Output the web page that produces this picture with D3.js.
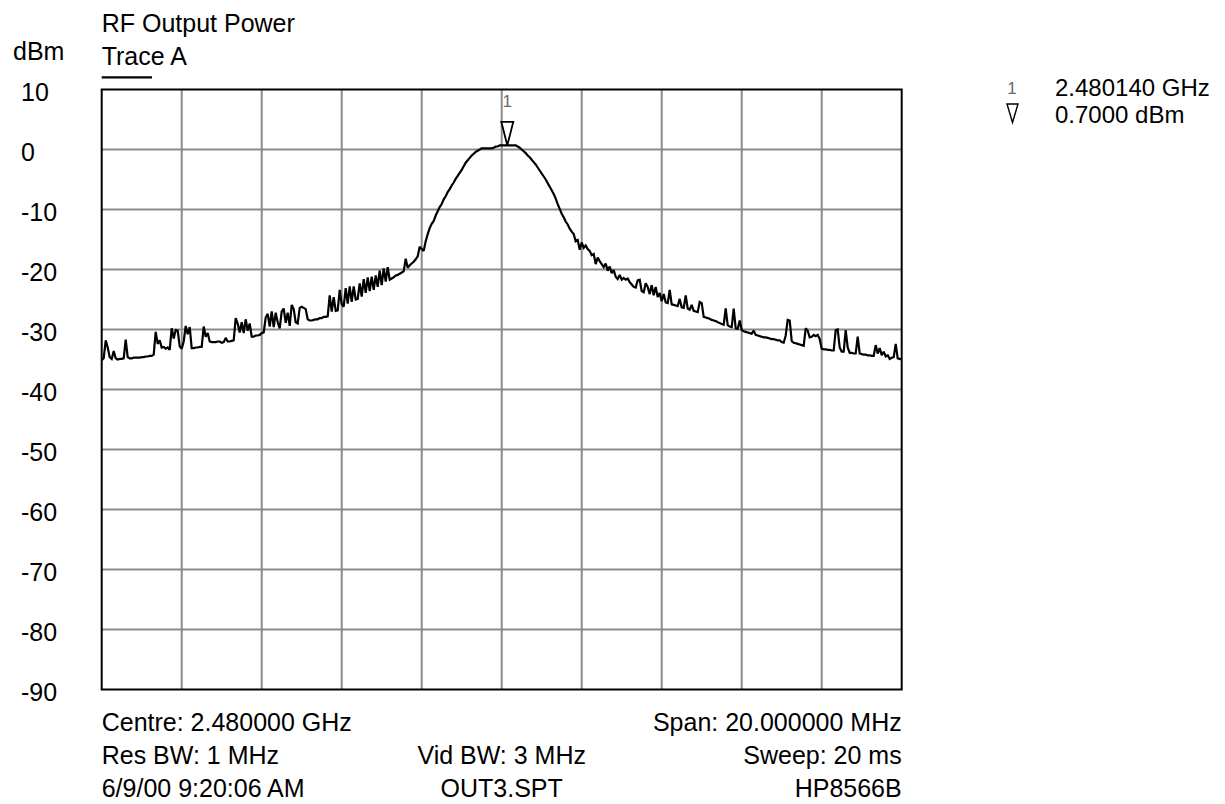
<!DOCTYPE html>
<html>
<head>
<meta charset="utf-8">
<title>RF Output Power</title>
<script src="https://cdn.jsdelivr.net/npm/d3@7/dist/d3.min.js"></script>
<style>
  html, body { margin: 0; padding: 0; background: #ffffff; }
  svg { display: block; }
  text { font-family: "Liberation Sans", Arial, Helvetica, sans-serif; fill: #000; }
</style>
</head>
<body>
<svg id="chart" width="1225" height="804"></svg>
<script>
// Sweep setup (GHz)
const centreGHz = 2.480000;
const spanGHz = 0.020;

// Vertical scale, dBm
const levelTicks = [10, 0, -10, -20, -30, -40, -50, -60, -70, -80, -90];
// Horizontal divisions across the span
const freqDivisions = [0, 1, 2, 3, 4, 5, 6, 7, 8, 9, 10];

// Trace A, dBm, 401 sweep points from start to stop frequency
const traceDbm = [
  -35.1, -34.8, -31.8, -33.0, -34.6, -34.9, -33.6, -34.8, -35.0, -34.9, -34.9, -34.8, -31.7, -34.6, -34.8, -34.8, -34.7, -34.7, -34.7, -34.7,
  -34.6, -34.6, -34.5, -34.5, -34.4, -34.4, -34.2, -30.4, -32.4, -31.8, -33.0, -32.9, -33.2, -33.0, -33.4, -29.8, -31.5, -30.1, -30.2, -32.8,
  -33.2, -32.0, -29.4, -30.8, -29.6, -33.1, -33.1, -33.0, -33.0, -32.9, -32.9, -29.5, -31.2, -30.6, -32.0, -32.1, -32.1, -32.1, -32.0, -32.0,
  -32.2, -32.1, -31.4, -32.0, -32.0, -31.9, -31.8, -28.1, -29.0, -30.5, -28.8, -30.6, -28.3, -30.2, -29.0, -31.2, -31.2, -31.0, -31.0, -30.9,
  -30.6, -30.5, -28.0, -27.4, -29.5, -27.0, -29.6, -27.2, -28.8, -29.8, -27.0, -26.5, -28.9, -27.2, -29.4, -25.9, -26.6, -28.8, -29.0, -26.4,
  -26.2, -26.4, -26.6, -28.3, -28.5, -28.5, -28.4, -28.3, -28.3, -28.1, -28.1, -27.9, -27.9, -27.8, -24.3, -27.0, -24.6, -26.9, -26.8, -23.4,
  -25.8, -26.2, -23.1, -25.7, -22.8, -25.4, -22.8, -25.0, -24.9, -22.3, -24.5, -21.6, -23.9, -21.3, -23.6, -21.2, -23.4, -21.0, -22.9, -20.2,
  -22.6, -19.8, -22.0, -19.6, -21.7, -21.5, -21.3, -21.0, -20.9, -20.7, -20.5, -20.3, -18.2, -19.7, -19.3, -19.0, -18.7, -18.3, -17.8, -16.2,
  -16.6, -16.9, -15.3, -14.1, -13.1, -12.4, -11.9, -11.0, -10.3, -9.6, -9.1, -8.3, -7.8, -7.1, -6.6, -6.0, -5.5, -4.9, -4.4, -3.9,
  -3.4, -2.8, -2.2, -1.8, -1.4, -1.0, -0.7, -0.4, -0.2, 0.0, 0.2, 0.2, 0.2, 0.2, 0.2, 0.2, 0.3, 0.5, 0.5, 0.7,
  0.7, 0.7, 0.7, 0.7, 0.7, 0.7, 0.7, 0.7, 0.5, 0.3, 0.0, -0.3, -0.6, -1.0, -1.3, -1.7, -2.1, -2.5, -3.0, -3.5,
  -4.0, -4.5, -5.0, -5.6, -6.2, -6.8, -7.4, -8.2, -9.1, -9.9, -10.7, -11.3, -12.0, -12.5, -13.2, -13.7, -14.1, -15.3, -15.1, -16.7,
  -15.5, -16.4, -16.0, -16.6, -16.9, -17.6, -17.4, -19.1, -18.0, -18.6, -19.1, -19.6, -19.0, -20.2, -19.5, -20.6, -20.1, -21.2, -21.6, -20.9,
  -21.7, -21.4, -21.7, -21.5, -22.1, -22.5, -22.9, -23.0, -21.8, -21.7, -23.6, -23.8, -22.3, -22.9, -24.1, -22.6, -24.3, -22.9, -24.6, -23.9,
  -25.3, -24.1, -25.5, -25.6, -23.4, -25.8, -25.9, -26.0, -26.1, -24.9, -26.3, -26.4, -24.3, -26.5, -26.7, -25.9, -26.9, -27.0, -27.1, -25.4,
  -25.6, -27.9, -28.0, -28.1, -28.2, -28.4, -28.5, -28.6, -28.8, -28.9, -29.1, -29.2, -26.5, -29.3, -29.5, -29.6, -26.5, -29.8, -29.9, -28.5,
  -30.1, -30.3, -30.4, -30.5, -30.6, -30.7, -30.2, -30.9, -31.0, -31.1, -31.2, -31.3, -31.3, -31.4, -31.5, -31.6, -31.6, -31.7, -31.8, -31.8,
  -32.1, -32.2, -31.0, -28.4, -28.5, -31.9, -32.2, -32.3, -32.4, -32.5, -32.6, -32.7, -29.8, -30.2, -31.3, -31.2, -30.9, -31.1, -30.9, -31.6,
  -33.2, -33.3, -33.3, -33.4, -33.4, -33.5, -33.5, -30.1, -30.0, -33.0, -33.7, -33.7, -30.1, -33.0, -33.9, -33.9, -34.0, -34.0, -31.2, -34.0,
  -34.1, -34.2, -34.2, -34.3, -34.3, -34.4, -34.4, -32.6, -34.0, -33.1, -34.3, -33.7, -34.5, -34.3, -34.9, -34.7, -34.6, -32.4, -34.8, -34.9,
  -35.0
];

// Marker 1
const markerLabel = "1";
const markerFreqGHz = 2.480140;
const markerLevelDbm = 0.7;

// Header and footer annotations
const titleText = "RF Output Power";
const traceName = "Trace A";
const unitText = "dBm";
const footerLeft = ["Centre: 2.480000 GHz", "Res BW: 1 MHz", "6/9/00 9:20:06 AM"];
const footerMiddle = ["", "Vid BW: 3 MHz", "OUT3.SPT"];
const footerRight = ["Span: 20.000000 MHz", "Sweep: 20 ms", "HP8566B"];

const svg = d3.select("#chart");
const plot = { left: 101.7, right: 901.7, top: 89.5, bottom: 689.5 };
const fontSize = 25;

const startGHz = centreGHz - spanGHz / 2;
const stopGHz = centreGHz + spanGHz / 2;

const x = d3.scaleLinear().domain([startGHz, stopGHz]).range([plot.left, plot.right]);
const y = d3.scaleLinear().domain([-90, 10]).range([plot.bottom, plot.top]);

const stepGHz = spanGHz / (traceDbm.length - 1);
const trace = traceDbm.map((v, i) => ({ f: startGHz + i * stepGHz, v }));

// Graticule
const grid = svg.append("g").attr("stroke", "#8a8a8a").attr("stroke-width", 2);
grid.selectAll("line.v")
  .data(freqDivisions.slice(1, -1))
  .join("line")
  .attr("class", "v")
  .attr("x1", d => x(startGHz + d * spanGHz / 10))
  .attr("x2", d => x(startGHz + d * spanGHz / 10))
  .attr("y1", plot.top).attr("y2", plot.bottom);
grid.selectAll("line.h")
  .data(levelTicks.slice(1, -1))
  .join("line")
  .attr("class", "h")
  .attr("x1", plot.left).attr("x2", plot.right)
  .attr("y1", d => y(d)).attr("y2", d => y(d));

// Frame
svg.append("rect")
  .attr("x", plot.left).attr("y", plot.top)
  .attr("width", plot.right - plot.left)
  .attr("height", plot.bottom - plot.top)
  .attr("fill", "none").attr("stroke", "#000").attr("stroke-width", 2);

// Level labels
svg.append("g").selectAll("text")
  .data(levelTicks)
  .join("text")
  .attr("x", 21)
  .attr("y", d => y(d) + 11.5)
  .attr("font-size", fontSize)
  .text(d => d);

svg.append("text").attr("x", 13).attr("y", 60).attr("font-size", fontSize).text(unitText);
svg.append("text").attr("x", 101.7).attr("y", 31.7).attr("font-size", fontSize).text(titleText);
svg.append("text").attr("x", 101.7).attr("y", 65).attr("font-size", fontSize).text(traceName);
svg.append("line")
  .attr("x1", 101.7).attr("x2", 152).attr("y1", 77.3).attr("y2", 77.3)
  .attr("stroke", "#000").attr("stroke-width", 2.2);

// Trace
const line = d3.line().x(d => x(d.f)).y(d => y(d.v));
svg.append("path")
  .datum(trace)
  .attr("d", line)
  .attr("fill", "none")
  .attr("stroke", "#000")
  .attr("stroke-width", 2.2)
  .attr("stroke-linejoin", "miter")
  .attr("stroke-miterlimit", 2);

// Marker triangle sitting on the trace
const mx = x(markerFreqGHz), my = y(markerLevelDbm);
svg.append("path")
  .attr("d", `M${mx - 6},${my - 23.5}L${mx + 6},${my - 23.5}L${mx},${my}Z`)
  .attr("fill", "#fff").attr("stroke", "#000").attr("stroke-width", 1.8);
svg.append("text")
  .attr("x", mx).attr("y", my - 38)
  .attr("text-anchor", "middle")
  .attr("font-size", 17)
  .style("fill", "#6a6a6a")
  .text(markerLabel);

// Marker readout
svg.append("text")
  .attr("x", 1012).attr("y", 94)
  .attr("text-anchor", "middle")
  .attr("font-size", 17)
  .style("fill", "#6a6a6a")
  .text(markerLabel);
svg.append("path")
  .attr("d", "M1007,104L1018,104L1012.5,122.5Z")
  .attr("fill", "none").attr("stroke", "#000").attr("stroke-width", 1.4);
svg.append("text").attr("x", 1055).attr("y", 96).attr("font-size", 24)
  .text(`${markerFreqGHz.toFixed(6)} GHz`);
svg.append("text").attr("x", 1055).attr("y", 123).attr("font-size", 24)
  .text(`${markerLevelDbm.toFixed(4)} dBm`);

// Footer
const rowY = [730.7, 764, 797.3];
const footer = svg.append("g").attr("font-size", fontSize);
footer.selectAll("text.l").data(footerLeft).join("text")
  .attr("class", "l").attr("x", 101.7).attr("y", (d, i) => rowY[i]).text(d => d);
footer.selectAll("text.m").data(footerMiddle).join("text")
  .attr("class", "m").attr("x", (plot.left + plot.right) / 2).attr("y", (d, i) => rowY[i])
  .attr("text-anchor", "middle").text(d => d);
footer.selectAll("text.r").data(footerRight).join("text")
  .attr("class", "r").attr("x", plot.right).attr("y", (d, i) => rowY[i])
  .attr("text-anchor", "end").text(d => d);
</script>
</body>
</html>
